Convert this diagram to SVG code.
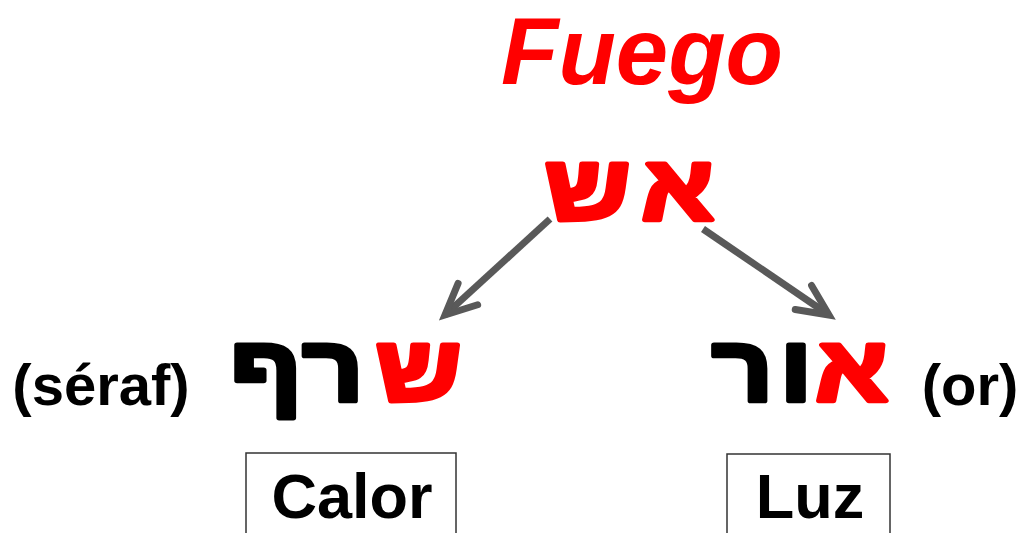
<svg xmlns="http://www.w3.org/2000/svg" width="1022" height="533" viewBox="0 0 1022 533">
<style>
.t{font-family:"Liberation Sans",Arial,sans-serif;font-weight:bold}
.heb{font-family:"Liberation Sans",Arial,sans-serif;font-weight:bold;font-size:92px;text-anchor:middle;stroke-width:5;stroke-linejoin:round;transform-box:fill-box;transform-origin:center;transform:scaleX(1.15)}
.red{fill:#FF0000}
.blk{fill:#000000}
.heb.red{stroke:#FF0000}
.heb.blk{stroke:#000000}
.conn{stroke:#595959;stroke-width:7;fill:none}
.box{fill:#FFFFFF;stroke:#333333;stroke-width:1.5}
</style>
<defs>
<marker id="ah" markerUnits="userSpaceOnUse" viewBox="-40 -20 50 40" refX="0" refY="0" markerWidth="50" markerHeight="40" orient="auto">
<path d="M-31,-14.5 L0,0 L-31,14.5" fill="none" stroke="#595959" stroke-width="7" stroke-linecap="round" stroke-linejoin="miter"/>
</marker>
</defs>
<rect width="1022" height="533" fill="#FFFFFF"/>
<g id="fuego"><text class="t red" x="642" y="84" font-size="94" font-style="italic" text-anchor="middle">Fuego</text></g>
<g id="esh">
<text class="heb red" x="587.5" y="220">ש</text>
<text class="heb red" x="677.5" y="220">א</text>
</g>
<g id="seraf">
<text class="heb red" x="418.5" y="401">ש</text>
<text class="heb blk" x="333" y="401">ר</text>
<text class="heb blk" x="266" y="401">ף</text>
<text class="t blk" x="101" y="405" font-size="58" text-anchor="middle">(séraf)</text>
</g>
<g id="or">
<text class="heb red" x="851.5" y="401">א</text>
<text class="heb blk" x="796" y="401">ו</text>
<text class="heb blk" x="742.5" y="401">ר</text>
<text class="t blk" x="970" y="405" font-size="58" text-anchor="middle">(or)</text>
</g>
<g id="calor"><rect class="box" x="246" y="453" width="210" height="100"/>
<text class="t blk" x="352" y="518" font-size="63" text-anchor="middle">Calor</text></g>
<g id="luz"><rect class="box" x="727" y="454" width="163" height="100"/>
<text class="t blk" x="810" y="518" font-size="63" text-anchor="middle">Luz</text></g>
<g id="connectors">
<line class="conn" x1="550" y1="219" x2="445" y2="315" marker-end="url(#ah)"/>
<line class="conn" x1="703" y1="229" x2="829" y2="315" marker-end="url(#ah)"/>
</g>
</svg>
